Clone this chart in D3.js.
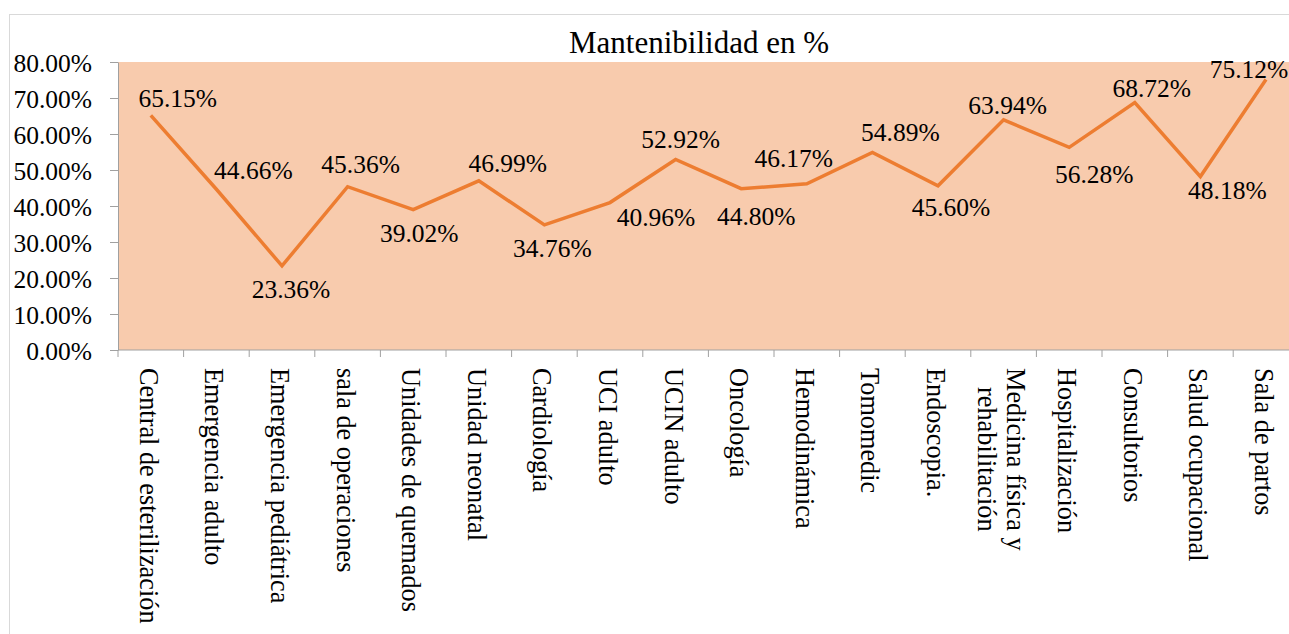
<!DOCTYPE html>
<html>
<head>
<meta charset="utf-8">
<script src="https://cdn.jsdelivr.net/npm/d3@7"></script>
<style>
  body { margin: 0; background: #fff; }
  text { font-family: "Liberation Serif", "Times New Roman", serif; fill: #000; }
</style>
</head>
<body>
<svg></svg>
<script>
var WIDTH = 1289;
var HEIGHT = 634;

//chart data
var title = "Mantenibilidad en %";
var categories = [
  "Central de esterilización", "Emergencia adulto", "Emergencia pediátrica",
  "sala de operaciones", "Unidades de quemados", "Unidad neonatal",
  "Cardiología", "UCI adulto", "UCIN adulto", "Oncología", "Hemodinámica",
  "Tomomedic", "Endoscopia.", "Medicina física y\nrehabilitación",
  "Hospitalización", "Consultorios", "Salud ocupacional", "Sala de partos"
];
var values = [
  0.6515, 0.4466, 0.2336, 0.4536, 0.3902, 0.4699, 0.3476, 0.4096, 0.5292,
  0.4480, 0.4617, 0.5489, 0.4560, 0.6394, 0.5628, 0.6872, 0.4818, 0.7512
];
var yTicks = [0, 0.1, 0.2, 0.3, 0.4, 0.5, 0.6, 0.7, 0.8];

//data labels were dragged by hand in the original, so keep their offsets
var labelDx = [27, 37, 9, 13, 6, 29, 8, 46, 5, 15, -13, 28, 13, 4, 25, 17, 27, -17];
var labelDy = [-8, -10, 32, -14, 32, -9, 32, 23, -11, 36, -17, -11, 30, -6, 36, -6, 22, -2];

var PLOT_LEFT = 118, PLOT_TOP = 62, PLOT_BOTTOM = 350, STEP = 65.6;
var fmt = d3.format(".2%");

var svg = d3.select("svg").attr("width", WIDTH).attr("height", HEIGHT);

//chart border
svg.append("rect")
  .attr("x", 9.5).attr("y", 14.5)
  .attr("width", WIDTH + 20).attr("height", HEIGHT + 20)
  .style("fill", "none").style("stroke", "#d9d9d9");

var x = d3.scaleBand().domain(categories).range([PLOT_LEFT, PLOT_LEFT + STEP * categories.length]);
var y = d3.scaleLinear().domain([0, 0.8]).range([PLOT_BOTTOM, PLOT_TOP]);

//plot area
svg.append("rect")
  .attr("x", PLOT_LEFT).attr("y", PLOT_TOP)
  .attr("width", x.range()[1] - PLOT_LEFT).attr("height", PLOT_BOTTOM - PLOT_TOP)
  .style("fill", "#f8cbad");

svg.append("text")
  .attr("x", 699).attr("y", 53)
  .attr("text-anchor", "middle")
  .style("font-size", "31px")
  .text(title);

//y axis
var yAxis = svg.append("g")
  .attr("transform", "translate(" + PLOT_LEFT + ",0)")
  .call(d3.axisLeft(y).tickValues(yTicks).tickFormat(fmt).tickSize(8).tickSizeOuter(0).tickPadding(18));
yAxis.selectAll("path, line").style("stroke", "#a0a0a0");
yAxis.selectAll("text").style("font-size", "25.5px").attr("dy", "0.36em");

//x axis
var xAxis = svg.append("g");
xAxis.append("line")
  .attr("x1", PLOT_LEFT).attr("x2", x.range()[1])
  .attr("y1", PLOT_BOTTOM).attr("y2", PLOT_BOTTOM)
  .style("stroke", "#a0a0a0");
xAxis.selectAll("line.tick")
  .data(categories)
  .enter()
  .append("line")
  .attr("class", "tick")
  .attr("x1", function (d) { return x(d); })
  .attr("x2", function (d) { return x(d); })
  .attr("y1", PLOT_BOTTOM).attr("y2", PLOT_BOTTOM + 7)
  .style("stroke", "#a0a0a0");

var xLabels = xAxis.selectAll("g.lab")
  .data(categories)
  .enter()
  .append("g")
  .attr("class", "lab")
  .attr("transform", function (d) {
    return "translate(" + (x(d) + x.bandwidth() / 2) + "," + (PLOT_BOTTOM + 18) + ") rotate(90)";
  });
xLabels.each(function (d) {
  var g = d3.select(this);
  var lines = d.split("\n");
  var n = lines.length;
  var texts = lines.map(function (s, i) {
    return g.append("text")
      .attr("x", 0)
      .attr("y", 11 - ((n - 1) / 2) * 29 + i * 29)
      .style("font-size", "26.3px")
      .text(s);
  });
  var lens = texts.map(function (t) { return t.node().getComputedTextLength(); });
  var maxLen = d3.max(lens);
  texts.forEach(function (t, i) { t.attr("x", (maxLen - lens[i]) / 2); });
});

//line
var line = d3.line()
  .x(function (d, i) { return x(categories[i]) + x.bandwidth() / 2; })
  .y(function (d) { return y(d); });

svg.append("path")
  .datum(values)
  .attr("d", line)
  .style("fill", "none")
  .style("stroke", "#ed7d31")
  .style("stroke-width", "3.5px")
  .style("stroke-linejoin", "miter");

//data labels
svg.selectAll("text.val")
  .data(values)
  .enter()
  .append("text")
  .attr("class", "val")
  .attr("x", function (d, i) { return x(categories[i]) + x.bandwidth() / 2 + labelDx[i]; })
  .attr("y", function (d, i) { return y(d) + labelDy[i]; })
  .attr("text-anchor", "middle")
  .style("font-size", "25.5px")
  .text(function (d) { return fmt(d); });
</script>
</body>
</html>
